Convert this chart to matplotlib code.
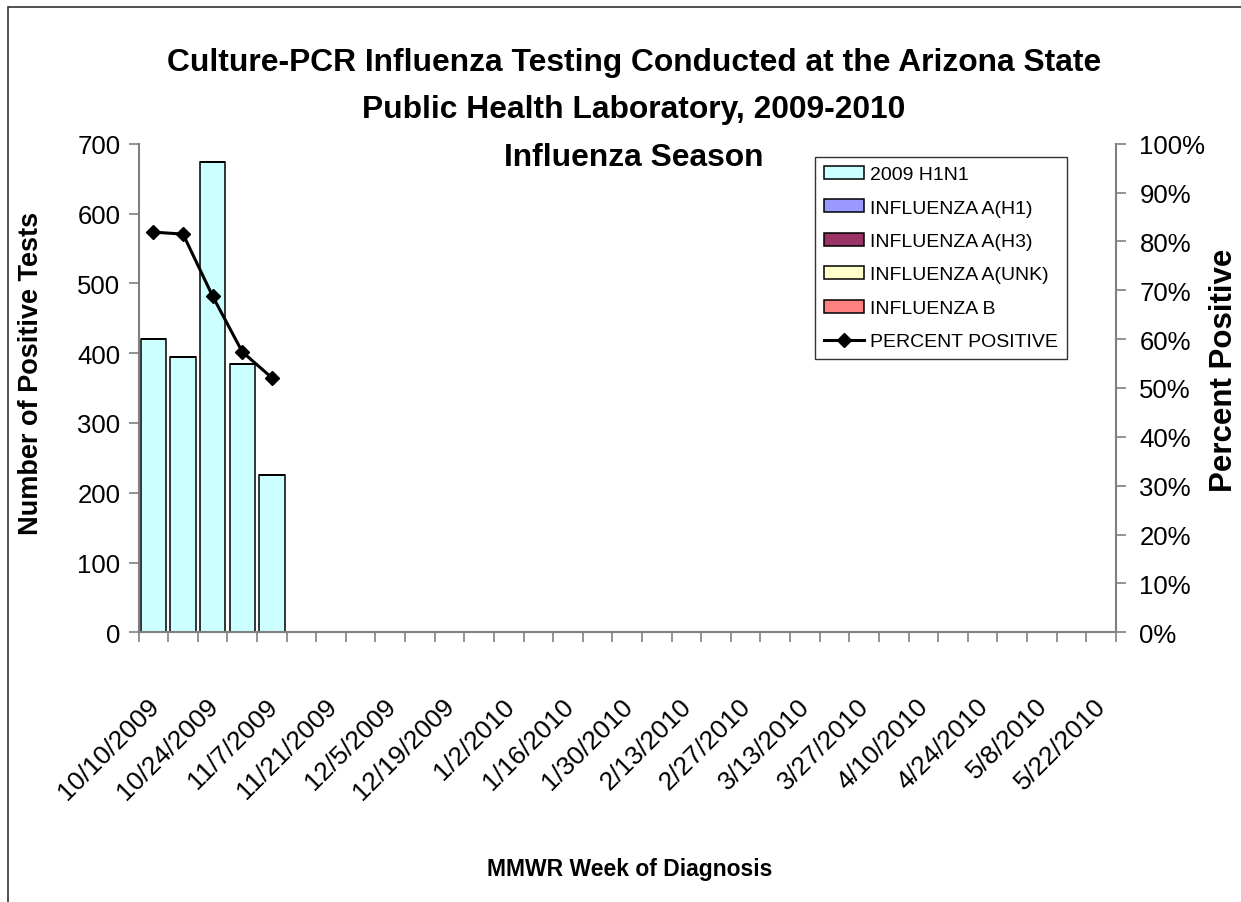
import matplotlib
matplotlib.use("Agg")
import matplotlib.pyplot as plt
import matplotlib.transforms as mtransforms
import numpy as np
from matplotlib.ticker import FuncFormatter

plt.rcParams['font.family'] = ['Liberation Sans', 'DejaVu Sans']

# semanas MMWR (33 categorias), etiqueta cada 2 semanas
n_semanas = 33
etiquetas = ['10/10/2009', '10/24/2009', '11/7/2009', '11/21/2009', '12/5/2009',
             '12/19/2009', '1/2/2010', '1/16/2010', '1/30/2010', '2/13/2010',
             '2/27/2010', '3/13/2010', '3/27/2010', '4/10/2010', '4/24/2010',
             '5/8/2010', '5/22/2010']

# conteos por serie (solo las primeras 5 semanas tienen datos)
h1n1_2009 = [420, 395, 674, 385, 225]
flu_a_h1 = [0, 0, 0, 0, 0]
flu_a_h3 = [0, 0, 0, 0, 0]
flu_a_unk = [0, 0, 0, 0, 0]
flu_b = [0, 0, 0, 0, 0]
pct_positivo = [81.9, 81.5, 68.8, 57.4, 52.1]

series = [
    ('2009 H1N1', h1n1_2009, '#CCFFFF'),
    ('INFLUENZA A(H1)', flu_a_h1, '#9999FF'),
    ('INFLUENZA A(H3)', flu_a_h3, '#993366'),
    ('INFLUENZA A(UNK)', flu_a_unk, '#FFFFCC'),
    ('INFLUENZA B', flu_b, '#FF8080'),
]

titulo = ['Culture-PCR Influenza Testing Conducted at the Arizona State',
          'Public Health Laboratory, 2009-2010',
          'Influenza Season']

gris = '#808080'
W, H = 1241, 903
fig = plt.figure(figsize=(W / 100, H / 100), dpi=100)
ax = fig.add_axes([138.6 / W, 1 - 633.3 / H, (1115.8 - 138.6) / W, (633.3 - 144.7) / H])

x = np.arange(len(h1n1_2009))
base = np.zeros(len(x))
handles = []
for nombre, valores, color in series:
    b = ax.bar(x, valores, width=0.86, bottom=base, color=color,
               edgecolor='black', linewidth=1.1, label=nombre)
    handles.append(b)
    base = base + np.array(valores)

ax.set_xlim(-0.5, n_semanas - 0.5)
ax.set_ylim(0, 700)
ax.set_yticks(range(0, 701, 100))
ax.tick_params(axis='y', labelsize=18.5, length=7, width=1.2, color=gris, pad=6)

# ticks en los limites de categoria, etiquetas en el centro
ax.set_xticks(np.arange(-0.5, n_semanas, 1))
ax.set_xticklabels([])
ax.tick_params(axis='x', which='major', length=7, width=1.2, color=gris)
ax.set_xticks(np.arange(0, n_semanas, 2), minor=True)
ax.set_xticklabels(etiquetas, minor=True, rotation=45, ha='right',
                   rotation_mode='anchor', va='top', fontsize=19)
ax.tick_params(axis='x', which='minor', length=0, pad=44)
desplaza = mtransforms.ScaledTranslation(-7 / 100, 0, fig.dpi_scale_trans)
for lbl in ax.get_xticklabels(minor=True):
    lbl.set_transform(lbl.get_transform() + desplaza)

for s in ['top', 'right']:
    ax.spines[s].set_visible(False)
for s in ['left', 'bottom']:
    ax.spines[s].set_color(gris)
    ax.spines[s].set_linewidth(1.5)

ax2 = ax.twinx()
linea, = ax2.plot(x, pct_positivo, color='black', linewidth=2.2, marker='D',
                  markersize=7, label='PERCENT POSITIVE')
ax2.set_ylim(0, 100)
ax2.set_yticks(range(0, 101, 10))
ax2.yaxis.set_major_formatter(FuncFormatter(lambda v, p: f'{v:.0f}%'))
ax2.tick_params(axis='y', labelsize=18.5, length=7, width=1.2, color=gris, pad=10)
for s in ['top', 'left', 'bottom']:
    ax2.spines[s].set_visible(False)
ax2.spines['right'].set_color(gris)
ax2.spines['right'].set_linewidth(1.5)

# titulos de ejes
fig.text(31 / W, 1 - 373 / H, 'Number of Positive Tests', fontsize=19.5,
         fontweight='bold', rotation=90, ha='center', va='center')
fig.text(1224 / W, 1 - 370 / H, 'Percent Positive', fontsize=22.5,
         fontweight='bold', rotation=90, ha='center', va='center')
fig.text(630 / W, 1 - 870 / H, 'MMWR Week of Diagnosis', fontsize=16.5,
         fontweight='bold', ha='center', va='center')

# titulo en tres lineas
for linea_txt, xc, yc in zip(titulo, [634, 634, 634], [63, 110, 158]):
    fig.text(xc / W, 1 - yc / H, linea_txt, fontsize=22.9, fontweight='bold',
             ha='center', va='center')

leg = ax2.legend(handles + [linea], [h.get_label() for h in handles] + ['PERCENT POSITIVE'],
                 loc='upper left', bbox_to_anchor=(815 / W, 1 - 158 / H),
                 bbox_transform=fig.transFigure, fontsize=14, frameon=True,
                 fancybox=False, edgecolor='black', handlelength=2.05,
                 handleheight=0.65, labelspacing=0.83, handletextpad=0.35,
                 borderpad=0.45, borderaxespad=0)
leg.get_frame().set_linewidth(1.0)

# marco del grafico
fig.patches.append(plt.Rectangle((8 / W, -0.05), 1.1, 1 - 8 / H + 0.05,
                                 transform=fig.transFigure, fill=False,
                                 edgecolor='#333333', linewidth=1.2))

fig.savefig('out.png', dpi=100)
